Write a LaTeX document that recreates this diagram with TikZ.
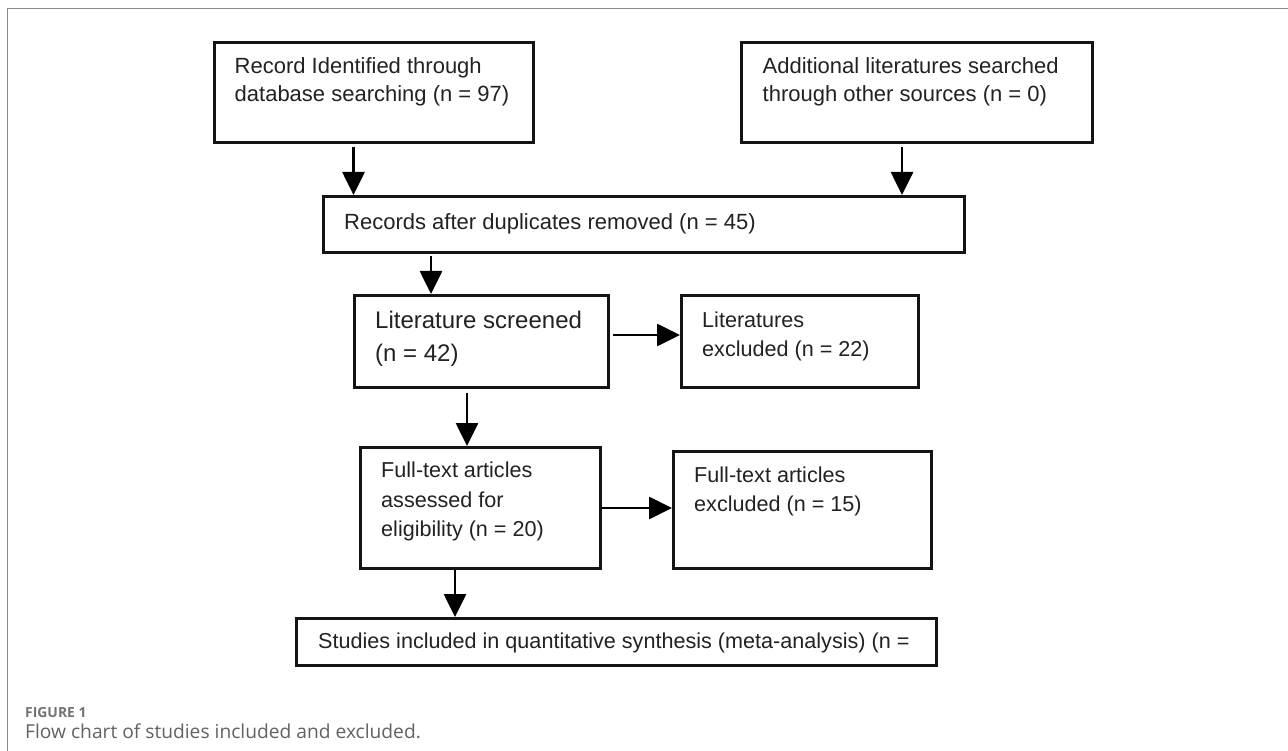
\documentclass[tikz,border=0pt]{standalone}
\usepackage{fontspec}
\setmainfont{Liberation Sans}
\newfontfamily\capfont{Open Sans}
\usetikzlibrary{arrows.meta,calc}
\definecolor{ink}{HTML}{222222}
\definecolor{framegrey}{HTML}{8A8A8A}
\definecolor{capgrey}{HTML}{5A5A5A}
\tikzset{
  box/.style={draw=black!92, line width=3pt, rectangle, inner sep=0pt, anchor=north west},
  arr/.style={draw=black, line width=2.7pt, -{Triangle[length=23pt,width=22pt]}},
  txt/.style={anchor=base west, inner sep=0pt, text=ink},
  tn/.style={txt, font=\fontsize{22}{26}\selectfont},
  tm/.style={txt, font=\fontsize{21.6}{26}\selectfont},
  tl/.style={txt, font=\fontsize{24}{28}\selectfont},
  frame/.style={draw=framegrey, line width=1.5pt},
}
\begin{document}
\begin{tikzpicture}[x=1pt,y=-1pt]
\useasboundingbox[fill=white] (0,0) rectangle (1288,751);
% outer frame (top and left)
\draw[frame] (7.5,751) -- (7.5,8.3) -- (1288,8.3);
% boxes
\node[box, minimum width=319.5pt, minimum height=100pt] (b1) at (212.5,41) {};
\node[box, minimum width=351pt, minimum height=100pt] (b2) at (740,41) {};
\node[box, minimum width=641pt, minimum height=56pt] (b3) at (322,195) {};
\node[box, minimum width=254pt, minimum height=92pt] (b4) at (353,294) {};
\node[box, minimum width=237pt, minimum height=92pt] (b5) at (680,294) {};
\node[box, minimum width=240pt, minimum height=121pt] (b6) at (359,446) {};
\node[box, minimum width=258pt, minimum height=117pt] (b7) at (672,450) {};
\node[box, minimum width=640pt, minimum height=47pt] (b8) at (295,617) {};
% texts
\node[tn] (t1a) at (234.5,73.3) {Record Identified through};
\node[tn] (t1b) at (234.5,101.7) {database searching (n = 97)};
\node[tn] (t2a) at (762.5,73.3) {Additional literatures searched};
\node[tn] (t2b) at (762.5,101.7) {through other sources (n = 0)};
\node[tn] (t3) at (344,230) {Records after duplicates removed (n = 45)};
\node[tl] (t4a) at (375,328.3) {Literature screened};
\node[tl] (t4b) at (375,361.5) {(n = 42)};
\node[tm] (t5a) at (702,327) {Literatures};
\node[tm] (t5b) at (702,356) {excluded (n = 22)};
\node[tm] (t6a) at (381,477.5) {Full-text articles};
\node[tm] (t6b) at (381,507) {assessed for};
\node[tm] (t6c) at (381,536.5) {eligibility (n = 20)};
\node[tm] (t7a) at (694,482.5) {Full-text articles};
\node[tm] (t7b) at (694,511) {excluded (n = 15)};
\node[tm] (t8) at (318,648) {Studies included in quantitative synthesis (meta-analysis) (n =};
% connectors
\coordinate (s1) at (353.5,147.5);
\coordinate (s2) at (902,147.5);
\coordinate (s3) at (431,256);
\coordinate (s4) at (612.5,335);
\coordinate (s5) at (467,392.5);
\draw[arr] (s1) -- (s1 |- b3.north);
\draw[arr] (s2) -- (s2 |- b3.north);
\draw[arr] (s3) -- (s3 |- b4.north);
\draw[arr] (s4) -- (s4 -| b5.west);
\draw[arr] (s5) -- (s5 |- b6.north);
\draw[arr] (b6.east |- 0,508) -- (b7.west |- 0,508);
\draw[arr] (b6.south -| 455,0) -- (b8.north -| 455,0);
% caption
\node[anchor=base west, inner sep=0pt, text=capgrey!85, font=\capfont\bfseries\fontsize{13.9}{16}\selectfont] (cap1) at (25,717.5) {FIGURE 1};
\node[anchor=base west, inner sep=0pt, text=capgrey!95, font=\capfont\fontsize{19.2}{22}\selectfont] (cap2) at (25,738) {Flow chart of studies included and excluded.};
\end{tikzpicture}
\end{document}
